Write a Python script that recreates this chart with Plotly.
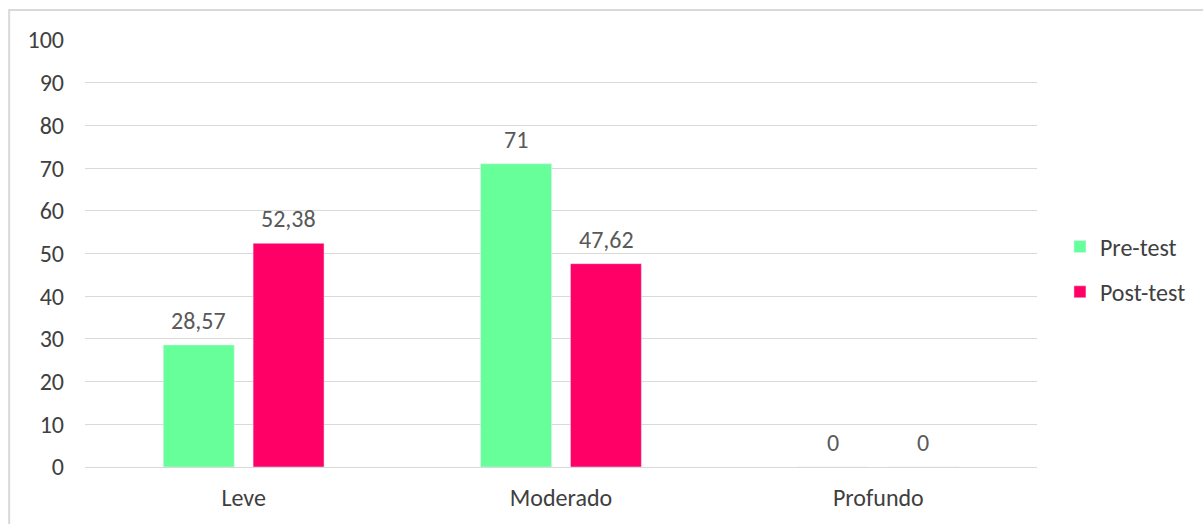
import plotly.graph_objects as go

categories = ["Leve", "Moderado", "Profundo"]
pre_test = [28.57, 71, 0]
post_test = [52.38, 47.62, 0]
y_ticks = [0, 10, 20, 30, 40, 50, 60, 70, 80, 90, 100]

W, H = 1203, 524
L, R, T, B = 85, 164, 40, 57
FONT = "Calibri, Carlito, 'Noto Sans', 'Open Sans', sans-serif"
GREY = "#595959"
DARK = "#404040"
FS = 24
BAR_OFFSET = 45  # px from category centre to each bar centre


def fmt(v):
    return f"{v:g}".replace(".", ",")


fig = go.Figure()
fig.add_trace(go.Bar(x=categories, y=pre_test, name="Pre-test",
                     marker_color="#66FF99", legendgroup="pre"))
fig.add_trace(go.Bar(x=categories, y=post_test, name="Post-test",
                     marker_color="#FF0066", legendgroup="post"))

# value labels above each bar
annotations = []
for values, shift in ((pre_test, -BAR_OFFSET), (post_test, BAR_OFFSET)):
    for cat, v in zip(categories, values):
        annotations.append(dict(
            x=cat, y=v, xref="x", yref="y", text=fmt(v), showarrow=False,
            xanchor="center", yanchor="bottom", xshift=shift, yshift=8,
            font=dict(family=FONT, size=FS, color=GREY)))

pw = W - L - R
ph = H - T - B
fig.update_layout(
    width=W, height=H,
    margin=dict(l=L, r=R, t=T, b=B),
    paper_bgcolor="white", plot_bgcolor="white",
    font=dict(family=FONT, size=FS, color=GREY),
    barmode="group", bargap=0.434, bargroupgap=0.21,
    showlegend=True,
    legend=dict(x=1.0 + 23 / pw, y=0.5 - 16 / ph, xanchor="left",
                yanchor="middle", font=dict(size=FS, color=DARK),
                tracegroupgap=11, itemwidth=30),
    annotations=annotations,
    shapes=[dict(type="rect", xref="paper", yref="paper",
                 x0=(9 - L) / pw, x1=(W + 5 - L) / pw,
                 y0=-(H + 5 - T - ph) / ph, y1=(T + ph - 10) / ph,
                 line=dict(color="#D9D9D9", width=2), layer="below")],
)
fig.update_yaxes(range=[0, 100], tickvals=y_ticks, showgrid=True,
                 gridcolor="#D9D9D9", gridwidth=1, zeroline=True,
                 zerolinecolor="#D9D9D9", zerolinewidth=1,
                 showline=False, ticks="", ticklabelstandoff=20,
                 tickfont=dict(size=FS, color=DARK))
fig.update_xaxes(showline=False, ticks="", showgrid=False,
                 tickfont=dict(size=FS, color=DARK), ticklabelstandoff=14)

fig.write_html("out.html")
